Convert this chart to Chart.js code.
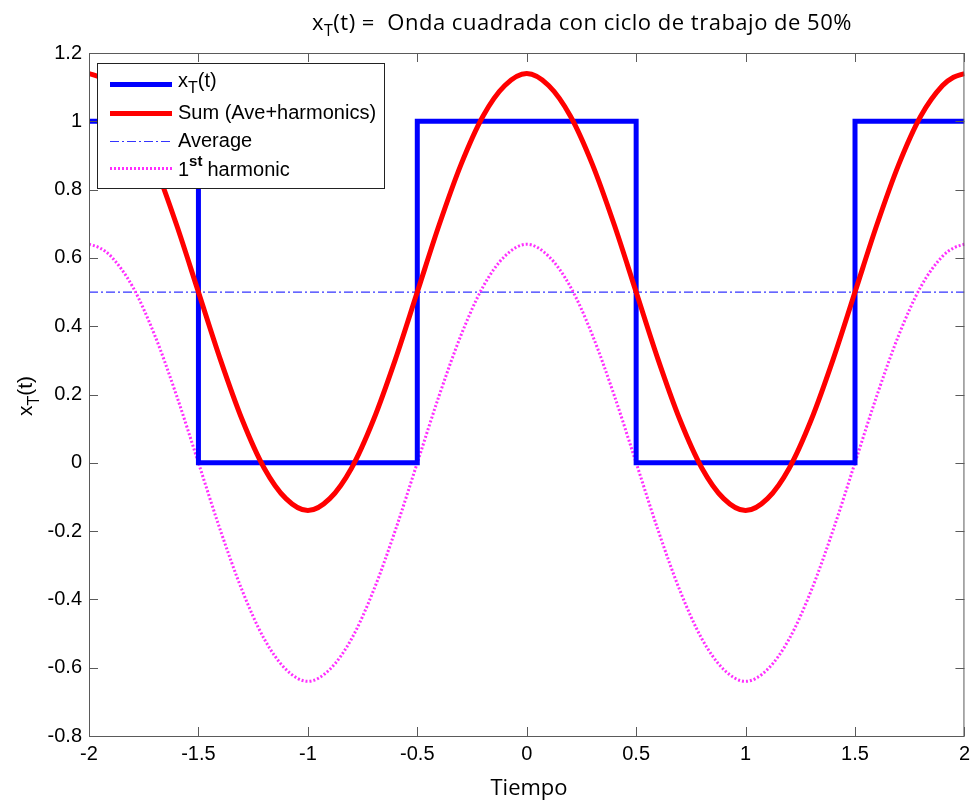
<!DOCTYPE html>
<html>
<head>
<meta charset="utf-8">
<script src="https://cdn.jsdelivr.net/npm/chart.js@4"></script>
<style>
  body { margin: 0; background: #fff; }
  #wrap { width: 976px; height: 806px; }
</style>
</head>
<body>
<div id="wrap"><canvas id="myChart" width="976" height="806"></canvas></div>
<script>
// time samples for the smooth curves (extra samples near the ends keep the slope flat there)
const tSamples = [-2, -1.95, -1.9, -1.8, -1.7, -1.6, -1.5, -1.4, -1.3, -1.2, -1.1, -1, -0.9, -0.8, -0.7, -0.6, -0.5, -0.4, -0.3, -0.2, -0.1,
  0, 0.1, 0.2, 0.3, 0.4, 0.5, 0.6, 0.7, 0.8, 0.9, 1, 1.1, 1.2, 1.3, 1.4, 1.5, 1.6, 1.7, 1.8, 1.9, 1.95, 2];

// first harmonic
const harmonicValues = [0.64, 0.629, 0.605, 0.515, 0.374, 0.197, 0, -0.197, -0.374, -0.515, -0.605, -0.64, -0.605, -0.515, -0.374, -0.197, 0, 0.197, 0.374, 0.515, 0.605,
  0.64, 0.605, 0.515, 0.374, 0.197, 0, -0.197, -0.374, -0.515, -0.605, -0.64, -0.605, -0.515, -0.374, -0.197, 0, 0.197, 0.374, 0.515, 0.605, 0.629, 0.64];

// average + harmonic
const sumValues = [1.14, 1.129, 1.105, 1.015, 0.874, 0.697, 0.5, 0.303, 0.126, -0.015, -0.105, -0.14, -0.105, -0.015, 0.126, 0.303, 0.5, 0.697, 0.874, 1.015, 1.105,
  1.14, 1.105, 1.015, 0.874, 0.697, 0.5, 0.303, 0.126, -0.015, -0.105, -0.14, -0.105, -0.015, 0.126, 0.303, 0.5, 0.697, 0.874, 1.015, 1.105, 1.129, 1.14];

// square wave corners
const squareT = [-2, -1.5, -1.5, -0.5, -0.5, 0.5, 0.5, 1.5, 1.5, 2];
const squareValues = [1, 1, 0, 0, 1, 1, 0, 0, 1, 1];

const averageT = [-2, 2];
const averageValues = [0.5, 0.5];

const xTicks = [-2, -1.5, -1, -0.5, 0, 0.5, 1, 1.5, 2];
const yTicks = [-0.8, -0.6, -0.4, -0.2, 0, 0.2, 0.4, 0.6, 0.8, 1, 1.2];

const legendLabels = ['x|T|(t)', 'Sum (Ave+harmonics)', 'Average', '1^st^ harmonic'];

const toPoints = (xs, ys) => xs.map((x, i) => ({ x: x, y: ys[i] }));

const axisColor = '#5a5a5a';
const arial = '"Liberation Sans", Arial, sans-serif';
const avgColor = '#3434ff';
const harmColor = '#ff2eff';

// draws text with a subscript part: [main, sub, rest]
function drawSubText(ctx, x, y, parts, font, subFont, subDy) {
  ctx.font = font;
  ctx.fillText(parts[0], x, y);
  x += ctx.measureText(parts[0]).width;
  ctx.font = subFont;
  ctx.fillText(parts[1], x, y + subDy);
  x += ctx.measureText(parts[1]).width;
  ctx.font = font;
  ctx.fillText(parts[2], x, y);
}

const decorPlugin = {
  id: 'decor',
  afterDatasetsDraw(chart) {
    const ctx = chart.ctx;
    const area = chart.chartArea;
    const xs = chart.scales.x;
    const ys = chart.scales.y;
    ctx.save();
    // box
    ctx.strokeStyle = axisColor;
    ctx.lineWidth = 1;
    ctx.strokeRect(area.left + 0.5, area.top + 0.5, area.right - area.left - 1, area.bottom - area.top);
    // inward ticks on all four sides
    ctx.beginPath();
    xTicks.forEach(v => {
      const px = Math.round(xs.getPixelForValue(v)) + 0.5;
      ctx.moveTo(px, area.bottom); ctx.lineTo(px, area.bottom - 9);
      ctx.moveTo(px, area.top); ctx.lineTo(px, area.top + 9);
    });
    yTicks.forEach(v => {
      const py = Math.round(ys.getPixelForValue(v)) + 0.5;
      ctx.moveTo(area.left, py); ctx.lineTo(area.left + 9, py);
      ctx.moveTo(area.right, py); ctx.lineTo(area.right - 9, py);
    });
    ctx.stroke();

    // legend
    const lx = 97, ly = 63, lw = 287, lh = 125;
    ctx.fillStyle = '#fff';
    ctx.fillRect(lx, ly, lw, lh);
    ctx.strokeStyle = '#222';
    ctx.strokeRect(lx + 0.5, ly + 0.5, lw, lh);
    const rows = [84, 113, 141, 168];
    const styles = [
      { c: '#0000ff', w: 5, d: [] },
      { c: '#ff0000', w: 5, d: [] },
      { c: avgColor, w: 1.2, d: [9, 3, 2, 3] },
      { c: harmColor, w: 3, d: [2, 2] }
    ];
    rows.forEach((ry, i) => {
      ctx.beginPath();
      ctx.strokeStyle = styles[i].c;
      ctx.lineWidth = styles[i].w;
      ctx.setLineDash(styles[i].d);
      ctx.moveTo(110, ry + 0.5); ctx.lineTo(172, ry + 0.5);
      ctx.stroke();
    });
    ctx.setLineDash([]);
    ctx.fillStyle = '#000';
    ctx.textBaseline = 'middle';
    ctx.textAlign = 'left';
    const lf = '20px ' + arial;
    const sf = '16px ' + arial;
    const l0 = legendLabels[0].split('|');
    drawSubText(ctx, 178, rows[0] - 3, l0, lf, sf, 8);
    ctx.font = lf;
    ctx.fillText(legendLabels[1], 178, rows[1]);
    ctx.fillText(legendLabels[2], 178, rows[2]);
    const l3 = legendLabels[3].split('^');
    ctx.fillText(l3[0], 178, rows[3] + 2);
    let w = ctx.measureText(l3[0]).width;
    ctx.font = 'bold 15px ' + arial;
    ctx.fillText(l3[1], 178 + w, rows[3] - 6);
    w += ctx.measureText(l3[1]).width + 5;
    ctx.font = lf;
    ctx.fillText(l3[2].trim(), 178 + w, rows[3] + 2);

    // title
    ctx.textBaseline = 'alphabetic';
    ctx.letterSpacing = '0.5px';
    const tf = '22px "Open Sans", sans-serif';
    const tsf = '16px "Open Sans", sans-serif';
    drawSubText(ctx, 312, 30, ['x', 'T', '(t) =  Onda cuadrada con ciclo de trabajo de 50%'], tf, tsf, 6);
    ctx.letterSpacing = '0px';

    // x axis title
    ctx.font = '22px "Open Sans", sans-serif';
    ctx.textAlign = 'center';
    ctx.fillText('Tiempo', 529, 795);

    // y axis title
    ctx.translate(32, 394);
    ctx.rotate(-Math.PI / 2);
    ctx.textAlign = 'left';
    drawSubText(ctx, -22, 0, ['x', 'T', '(t)'], '21px ' + arial, '16px ' + arial, 7);
    ctx.restore();
  }
};

new Chart(document.getElementById('myChart'), {
  type: 'line',
  data: {
    datasets: [
      {
        label: 'Average',
        data: toPoints(averageT, averageValues),
        borderColor: avgColor,
        borderWidth: 1.2,
        borderDash: [9, 3, 2, 3],
        pointRadius: 0,
        order: 4
      },
      {
        label: '1st harmonic',
        data: toPoints(tSamples, harmonicValues),
        borderColor: harmColor,
        borderWidth: 3,
        borderDash: [2, 2],
        cubicInterpolationMode: 'monotone',
        pointRadius: 0,
        order: 3
      },
      {
        label: 'x_T(t)',
        data: toPoints(squareT, squareValues),
        borderColor: '#0000ff',
        borderWidth: 5,
        borderJoinStyle: 'miter',
        pointRadius: 0,
        order: 2
      },
      {
        label: 'Sum (Ave+harmonics)',
        data: toPoints(tSamples, sumValues),
        borderColor: '#ff0000',
        borderWidth: 5,
        cubicInterpolationMode: 'monotone',
        pointRadius: 0,
        order: 1
      }
    ]
  },
  options: {
    responsive: false,
    animation: false,
    layout: { padding: { left: 0, top: 53, right: 11, bottom: 0 } },
    plugins: { legend: { display: false }, title: { display: false }, tooltip: { enabled: false } },
    scales: {
      x: {
        type: 'linear',
        min: -2, max: 2,
        afterFit: s => { s.height = 70; },
        afterBuildTicks: s => { s.ticks = xTicks.map(v => ({ value: v })); },
        grid: { display: false, drawTicks: false },
        border: { display: false },
        ticks: {
          padding: 6,
          color: '#000',
          font: { family: arial, size: 20 },
          maxRotation: 0,
          callback: v => String(v)
        }
      },
      y: {
        type: 'linear',
        min: -0.8, max: 1.2,
        afterFit: s => { s.width = 89; },
        afterBuildTicks: s => { s.ticks = yTicks.map(v => ({ value: v })); },
        grid: { display: false, drawTicks: false },
        border: { display: false },
        ticks: {
          padding: 7,
          color: '#000',
          font: { family: arial, size: 20 },
          callback: v => String(Math.round(v * 10) / 10)
        }
      }
    }
  },
  plugins: [decorPlugin]
});
</script>
</body>
</html>
